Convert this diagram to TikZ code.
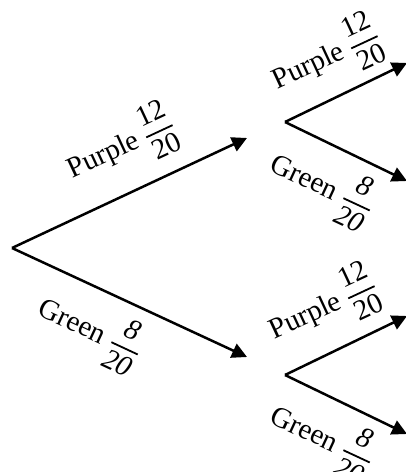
\documentclass[tikz,border=0pt]{standalone}
\usepackage{amsmath}
\usepackage{fontspec}
\setmainfont{Liberation Serif}
\usetikzlibrary{arrows.meta}
\newcommand{\myfr}[2]{$\genfrac{}{}{1.8pt}{0}{\mbox{#1}}{\mbox{#2}}$}
\tikzset{
  branch/.style={line width=2.5pt, -{Triangle[length=15pt,width=15pt]}},
  lbl/.style={font=\fontsize{29}{33}\selectfont, inner sep=0pt},
  uplbl/.style={lbl, rotate=25},
  dnlbl/.style={lbl, rotate=-25}
}
\begin{document}
\begin{tikzpicture}[x=1pt,y=1pt]
\useasboundingbox (0,0) rectangle (406,472);
% points (y = 472 - pixel y)
\coordinate (root) at (12,224);
\coordinate (t1) at (247,334);
\coordinate (t2) at (247,115);
\coordinate (s1) at (285,350);
\coordinate (s2) at (285,97);
\coordinate (l1) at (407,409);
\coordinate (l2) at (407,291);
\coordinate (l3) at (407,156);
\coordinate (l4) at (407,38);
% branches
\draw[branch] (root) -- (t1);
\draw[branch] (root) -- (t2);
\draw[branch] (s1) -- (l1);
\draw[branch] (s1) -- (l2);
\draw[branch] (s2) -- (l3);
\draw[branch] (s2) -- (l4);
% labels
\node[uplbl] (lp0) at (121,325) {Purple \myfr{12}{20}};
\node[dnlbl] (lg0) at (90,142) {Green \myfr{\itshape 8}{\itshape 20}};
\node[uplbl] (lp1) at (326,414) {Purple \myfr{12}{20}};
\node[dnlbl] (lg1) at (322,286) {Green \myfr{\itshape 8}{\itshape 20}};
\node[uplbl] (lp2) at (323,164) {Purple \myfr{12}{20}};
\node[dnlbl] (lg2) at (322,34) {Green \myfr{\itshape 8}{\itshape 20}};
\end{tikzpicture}
\end{document}
